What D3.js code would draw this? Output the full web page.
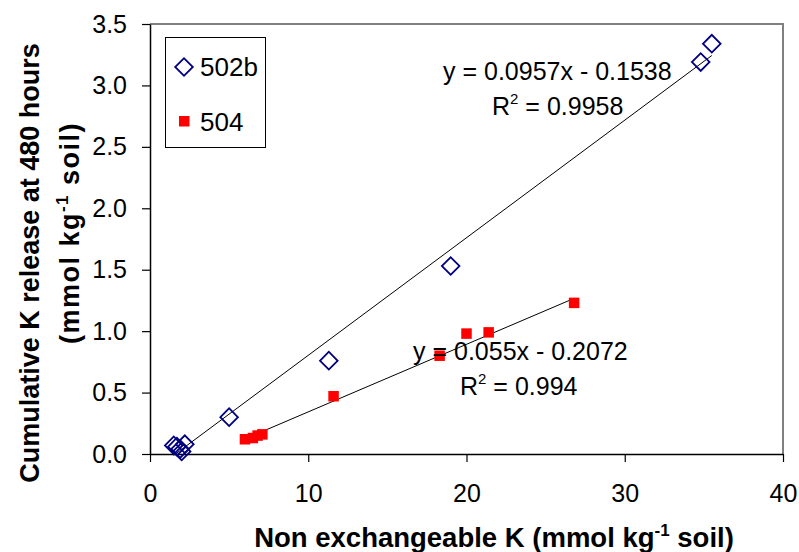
<!DOCTYPE html>
<html>
<head>
<meta charset="utf-8">
<script src="https://cdn.jsdelivr.net/npm/d3@7"></script>
<style>
html,body{margin:0;padding:0;background:#fff;}
svg{display:block;font-family:"Liberation Sans",Arial,sans-serif;}
</style>
</head>
<body>
<svg id="chart" width="799" height="552"></svg>
<script>
// ---- data ----
const seriesNames = ["502b", "504"];
const x502b = [1.5, 1.7, 1.9, 2.0, 2.2, 5.0, 11.3, 19.0, 34.8, 35.5];
const y502b = [0.07, 0.06, 0.04, 0.02, 0.08, 0.30, 0.76, 1.53, 3.19, 3.34];
const x504 = [6.0, 6.5, 6.8, 7.1, 11.6, 18.3, 20.0, 21.4, 26.8];
const y504 = [0.12, 0.13, 0.15, 0.16, 0.47, 0.80, 0.98, 0.99, 1.23];
const fit502b = {slope: 0.0957, intercept: -0.1538, r2: "0.9958"};
const fit504 = {slope: 0.055, intercept: -0.2072, r2: "0.994"};
const xTicks = [0, 10, 20, 30, 40];
const yTicks = [0, 0.5, 1.0, 1.5, 2.0, 2.5, 3.0, 3.5];

// ---- layout ----
const svg = d3.select("#chart");
const L = 150, R = 783, T = 24, B = 454;
const x = d3.scaleLinear().domain([0, 40]).range([L, R]);
const y = d3.scaleLinear().domain([0, 3.5]).range([B, T]);

// frame (top & right)
svg.append("path")
  .attr("d", `M${L},${T}H${R}V${B}`)
  .attr("fill", "none").attr("stroke", "#808080").attr("stroke-width", 2);

// axes
const xAxis = d3.axisBottom(x).tickValues(xTicks).tickFormat(d3.format("d"))
  .tickSize(8).tickSizeOuter(0).tickPadding(22);
const yAxis = d3.axisLeft(y).tickValues(yTicks).tickFormat(d3.format(".1f"))
  .tickSize(8).tickSizeOuter(0).tickPadding(15);

const gx = svg.append("g").attr("transform", `translate(0,${B})`).call(xAxis);
const gy = svg.append("g").attr("transform", `translate(${L},0)`).call(yAxis);
[gx, gy].forEach(g => {
  g.selectAll("path.domain").attr("stroke", "#000").attr("stroke-width", 1.5);
  g.selectAll(".tick line").attr("stroke", "#000").attr("stroke-width", 1.2);
  g.selectAll(".tick text").attr("font-size", 25)
    .attr("font-family", "Liberation Sans, Arial, sans-serif").attr("fill", "#000");
});

// regression lines
function fitLine(xs, fit) {
  const x0 = d3.min(xs), x1 = d3.max(xs);
  svg.append("line")
    .attr("x1", x(x0)).attr("y1", y(fit.slope * x0 + fit.intercept))
    .attr("x2", x(x1)).attr("y2", y(fit.slope * x1 + fit.intercept))
    .attr("stroke", "#000").attr("stroke-width", 1);
}
fitLine(x502b, fit502b);
fitLine(x504, fit504);

// points
const diamond = d3.symbol().type(d3.symbolSquare).size(155);
svg.append("g").selectAll("path").data(d3.range(x502b.length)).join("path")
  .attr("d", diamond)
  .attr("transform", i => `translate(${x(x502b[i])},${y(y502b[i])}) rotate(45)`)
  .attr("fill", "none").attr("stroke", "#000080").attr("stroke-width", 1.8);

const sq = 10.5;
svg.append("g").selectAll("rect").data(d3.range(x504.length)).join("rect")
  .attr("x", i => x(x504[i]) - sq / 2).attr("y", i => y(y504[i]) - sq / 2)
  .attr("width", sq).attr("height", sq).attr("fill", "#ff0000");

// equations
function eq(fit, lines) {
  svg.append("text").attr("x", lines[0][0]).attr("y", lines[0][1])
    .attr("font-size", 25).attr("fill", "#000")
    .text(`y = ${fit.slope}x - ${Math.abs(fit.intercept)}`);
  const t2 = svg.append("text").attr("x", lines[1][0]).attr("y", lines[1][1])
    .attr("font-size", 25).attr("fill", "#000");
  t2.append("tspan").text("R");
  t2.append("tspan").attr("dy", -11).attr("font-size", 15).text("2");
  t2.append("tspan").attr("dy", 11).text(` = ${fit.r2}`);
}
eq(fit502b, [[443, 80], [492, 115]]);
eq(fit504, [[413, 360], [460, 395]]);

// legend
svg.append("rect").attr("x", 165.5).attr("y", 37.5).attr("width", 100).attr("height", 110)
  .attr("fill", "#fff").attr("stroke", "#000").attr("stroke-width", 1);
svg.append("path").attr("d", diamond)
  .attr("transform", "translate(184,67) rotate(45)")
  .attr("fill", "none").attr("stroke", "#000080").attr("stroke-width", 1.8);
svg.append("rect").attr("x", 179).attr("y", 116).attr("width", sq).attr("height", sq).attr("fill", "#ff0000");
svg.append("text").attr("x", 200).attr("y", 76).attr("font-size", 26).text(seriesNames[0]);
svg.append("text").attr("x", 200).attr("y", 131).attr("font-size", 26).text(seriesNames[1]);

// axis titles
const xt = svg.append("text").attr("x", 494).attr("y", 547)
  .attr("text-anchor", "middle").attr("font-size", 27.5).attr("font-weight", "bold");
xt.append("tspan").text("Non exchangeable K (mmol kg");
xt.append("tspan").attr("dy", -11).attr("font-size", 17).text("-1");
xt.append("tspan").attr("dy", 11).text(" soil)");

svg.append("text").attr("transform", "translate(39,263) rotate(-90)")
  .attr("text-anchor", "middle").attr("font-size", 27).attr("font-weight", "bold")
  .text("Cumulative K release at 480 hours");
const yt2 = svg.append("text").attr("transform", "translate(79,233) rotate(-90)")
  .attr("text-anchor", "middle").attr("font-size", 27).attr("font-weight", "bold")
  .attr("letter-spacing", 1.5);
yt2.append("tspan").text("(mmol kg");
yt2.append("tspan").attr("dy", -11).attr("font-size", 17).text("-1");
yt2.append("tspan").attr("dy", 11).text(" soil)");
</script>
</body>
</html>
